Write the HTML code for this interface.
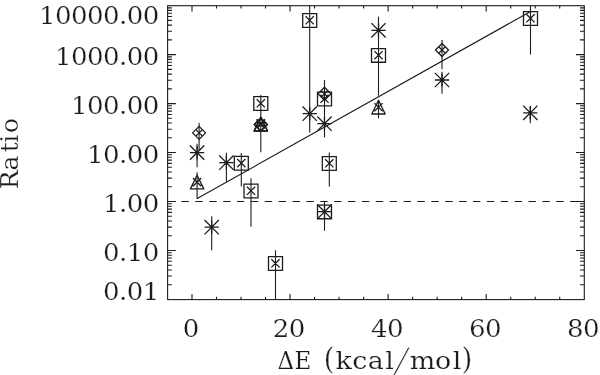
<!DOCTYPE html>
<html lang="en"><head><meta charset="utf-8"><title>Ratio vs ΔE (kcal/mol)</title>
<style>html,body{margin:0;padding:0;background:#fff;overflow:hidden}svg{display:block}text{font-family:"DejaVu Serif","Liberation Serif",serif;font-size:25px;fill:#1c1c1c;stroke:#fff;stroke-width:0.2px;paint-order:fill stroke}</style></head><body>
<svg width="600" height="375" viewBox="0 0 600 375">
<rect x="0" y="0" width="600" height="375" fill="#fff"/>
<g fill="none" stroke="#1c1c1c" stroke-width="1.1" stroke-linecap="butt">
<rect x="167.60" y="5.70" width="416.70" height="293.90"/>
<path d="M192.00 299.60v-5.70M192.00 5.70v5.70M216.51 299.60v-2.90M216.51 5.70v2.90M241.03 299.60v-2.90M241.03 5.70v2.90M265.54 299.60v-2.90M265.54 5.70v2.90M290.06 299.60v-5.70M290.06 5.70v5.70M314.57 299.60v-2.90M314.57 5.70v2.90M339.09 299.60v-2.90M339.09 5.70v2.90M363.61 299.60v-2.90M363.61 5.70v2.90M388.12 299.60v-5.70M388.12 5.70v5.70M412.63 299.60v-2.90M412.63 5.70v2.90M437.15 299.60v-2.90M437.15 5.70v2.90M461.66 299.60v-2.90M461.66 5.70v2.90M486.18 299.60v-5.70M486.18 5.70v5.70M510.69 299.60v-2.90M510.69 5.70v2.90M535.21 299.60v-2.90M535.21 5.70v2.90M559.72 299.60v-2.90M559.72 5.70v2.90"/>
<path d="M167.60 284.68h4.30M584.30 284.68h-4.30M167.60 276.06h4.30M584.30 276.06h-4.30M167.60 269.94h4.30M584.30 269.94h-4.30M167.60 265.20h4.30M584.30 265.20h-4.30M167.60 261.32h4.30M584.30 261.32h-4.30M167.60 258.04h4.30M584.30 258.04h-4.30M167.60 255.20h4.30M584.30 255.20h-4.30M167.60 252.70h4.30M584.30 252.70h-4.30M167.60 250.46h8.30M584.30 250.46h-8.30M167.60 235.72h4.30M584.30 235.72h-4.30M167.60 227.10h4.30M584.30 227.10h-4.30M167.60 220.98h4.30M584.30 220.98h-4.30M167.60 216.24h4.30M584.30 216.24h-4.30M167.60 212.36h4.30M584.30 212.36h-4.30M167.60 209.08h4.30M584.30 209.08h-4.30M167.60 206.24h4.30M584.30 206.24h-4.30M167.60 203.74h4.30M584.30 203.74h-4.30M167.60 201.50h8.30M584.30 201.50h-8.30M167.60 186.76h4.30M584.30 186.76h-4.30M167.60 178.14h4.30M584.30 178.14h-4.30M167.60 172.02h4.30M584.30 172.02h-4.30M167.60 167.28h4.30M584.30 167.28h-4.30M167.60 163.40h4.30M584.30 163.40h-4.30M167.60 160.12h4.30M584.30 160.12h-4.30M167.60 157.28h4.30M584.30 157.28h-4.30M167.60 154.78h4.30M584.30 154.78h-4.30M167.60 152.54h8.30M584.30 152.54h-8.30M167.60 137.80h4.30M584.30 137.80h-4.30M167.60 129.18h4.30M584.30 129.18h-4.30M167.60 123.06h4.30M584.30 123.06h-4.30M167.60 118.32h4.30M584.30 118.32h-4.30M167.60 114.44h4.30M584.30 114.44h-4.30M167.60 111.16h4.30M584.30 111.16h-4.30M167.60 108.32h4.30M584.30 108.32h-4.30M167.60 105.82h4.30M584.30 105.82h-4.30M167.60 103.58h8.30M584.30 103.58h-8.30M167.60 88.84h4.30M584.30 88.84h-4.30M167.60 80.22h4.30M584.30 80.22h-4.30M167.60 74.10h4.30M584.30 74.10h-4.30M167.60 69.36h4.30M584.30 69.36h-4.30M167.60 65.48h4.30M584.30 65.48h-4.30M167.60 62.20h4.30M584.30 62.20h-4.30M167.60 59.36h4.30M584.30 59.36h-4.30M167.60 56.86h4.30M584.30 56.86h-4.30M167.60 54.62h8.30M584.30 54.62h-8.30M167.60 39.88h4.30M584.30 39.88h-4.30M167.60 31.26h4.30M584.30 31.26h-4.30M167.60 25.14h4.30M584.30 25.14h-4.30M167.60 20.40h4.30M584.30 20.40h-4.30M167.60 16.52h4.30M584.30 16.52h-4.30M167.60 13.24h4.30M584.30 13.24h-4.30M167.60 10.40h4.30M584.30 10.40h-4.30M167.60 7.90h4.30M584.30 7.90h-4.30"/>
</g><g fill="none" stroke="#1c1c1c" stroke-width="1.1">
<path d="M167.60 201.50H584.30" stroke-dasharray="7.4 6.48"/>
<path d="M197.2 198.5L530.5 11.5"/>
<path d="M197.10 143.80V167.20M211.70 216.30V250.30M226.40 152.70V181.80M309.70 5.70V132.50M324.50 80.00V137.50M378.50 16.70V95.60M442.00 71.70V93.70M530.30 106.00V123.20M241.30 152.90V186.50M251.00 178.30V226.70M260.80 95.00V152.20M275.50 250.30V299.60M324.50 201.70V230.80M329.30 152.60V186.50M530.50 5.70V54.50M199.10 122.90V150.30M442.00 40.00V69.20M197.10 172.30V199.00M378.50 100.00V118.30"/>
</g><g fill="none" stroke="#1c1c1c" stroke-width="1.3">
<path d="M189.95 152.60h14.30M197.10 145.90v13.40M189.95 145.45l14.30 14.30M189.95 159.75l14.30 -14.30M204.55 227.20h14.30M211.70 220.50v13.40M204.55 220.05l14.30 14.30M204.55 234.35l14.30 -14.30M219.25 162.70h14.30M226.40 156.00v13.40M219.25 155.55l14.30 14.30M219.25 169.85l14.30 -14.30M302.55 113.70h14.30M309.70 107.00v13.40M302.55 106.55l14.30 14.30M302.55 120.85l14.30 -14.30M317.35 123.70h14.30M324.50 117.00v13.40M317.35 116.55l14.30 14.30M317.35 130.85l14.30 -14.30M371.35 30.30h14.30M378.50 23.60v13.40M371.35 23.15l14.30 14.30M371.35 37.45l14.30 -14.30M434.85 80.00h14.30M442.00 73.30v13.40M434.85 72.85l14.30 14.30M434.85 87.15l14.30 -14.30M523.15 112.80h14.30M530.30 106.10v13.40M523.15 105.65l14.30 14.30M523.15 119.95l14.30 -14.30M317.35 211.70h14.30M324.50 205.00v13.40M317.35 204.55l14.30 14.30M317.35 218.85l14.30 -14.30"/>
<path d="M234.30 156.45h14.00v13.70h-14.00zM237.20 159.00l8.20 8.20M237.20 167.20l8.20 -8.20M244.00 184.15h14.00v13.70h-14.00zM246.90 186.70l8.20 8.20M246.90 194.90l8.20 -8.20M253.80 96.65h14.00v13.70h-14.00zM256.70 99.20l8.20 8.20M256.70 107.40l8.20 -8.20M268.50 256.65h14.00v13.70h-14.00zM271.40 259.20l8.20 8.20M271.40 267.40l8.20 -8.20M302.70 13.65h14.00v13.70h-14.00zM305.60 16.20l8.20 8.20M305.60 24.40l8.20 -8.20M317.50 92.15h14.00v13.70h-14.00zM320.40 94.70l8.20 8.20M320.40 102.90l8.20 -8.20M322.30 156.65h14.00v13.70h-14.00zM325.20 159.20l8.20 8.20M325.20 167.40l8.20 -8.20M371.50 48.55h14.00v13.70h-14.00zM374.40 51.10l8.20 8.20M374.40 59.30l8.20 -8.20M523.50 11.65h14.00v13.70h-14.00zM526.40 14.20l8.20 8.20M526.40 22.40l8.20 -8.20"/>
<path d="M317.50 205.05h14.00v13.70h-14.00z"/>
<path stroke-linejoin="round" d="M199.10 126.40l6.50 6.50l-6.50 6.50l-6.50 -6.50zM196.10 129.90l6.00 6.00M196.10 135.90l6.00 -6.00M260.80 118.00l6.50 6.50l-6.50 6.50l-6.50 -6.50zM257.80 121.50l6.00 6.00M257.80 127.50l6.00 -6.00M324.50 87.30l6.50 6.50l-6.50 6.50l-6.50 -6.50zM321.50 90.80l6.00 6.00M321.50 96.80l6.00 -6.00M442.00 43.50l6.50 6.50l-6.50 6.50l-6.50 -6.50zM439.00 47.00l6.00 6.00M439.00 53.00l6.00 -6.00"/>
<path stroke-linejoin="round" d="M197.10 175.20L203.80 188.90H190.40zM193.00 178.00l8.20 8.20M193.00 186.20l8.20 -8.20M260.80 117.30L267.50 131.00H254.10zM256.70 120.10l8.20 8.20M256.70 128.30l8.20 -8.20M378.50 100.30L385.20 114.00H371.80zM374.40 103.10l8.20 8.20M374.40 111.30l8.20 -8.20"/>
<path stroke-linejoin="round" stroke-width="1.5" d="M256.60 119.20l8.40 8.40M256.60 127.60l8.40 -8.40M260.80 118.00l6.50 6.50l-6.50 6.50l-6.50 -6.50zM260.80 117.30L267.50 131.00H254.10z"/>
</g>
<text transform="translate(158.80 23.60) scale(1.043 1)" text-anchor="end" letter-spacing="-0.55">10000.00</text>
<text transform="translate(158.80 65.32) scale(1.043 1)" text-anchor="end" letter-spacing="-0.55">1000.00</text>
<text transform="translate(158.80 114.28) scale(1.043 1)" text-anchor="end" letter-spacing="-0.55">100.00</text>
<text transform="translate(158.80 163.24) scale(1.043 1)" text-anchor="end" letter-spacing="-0.55">10.00</text>
<text transform="translate(158.80 212.20) scale(1.043 1)" text-anchor="end" letter-spacing="-0.55">1.00</text>
<text transform="translate(158.80 261.16) scale(1.043 1)" text-anchor="end" letter-spacing="-0.55">0.10</text>
<text transform="translate(158.80 300.00) scale(1.043 1)" text-anchor="end" letter-spacing="-0.55">0.01</text>
<text transform="translate(190.80 336.70) scale(1.043 1)" text-anchor="middle" letter-spacing="-0.55">0</text>
<text transform="translate(288.86 336.70) scale(1.043 1)" text-anchor="middle" letter-spacing="-0.55">20</text>
<text transform="translate(386.92 336.70) scale(1.043 1)" text-anchor="middle" letter-spacing="-0.55">40</text>
<text transform="translate(484.98 336.70) scale(1.043 1)" text-anchor="middle" letter-spacing="-0.55">60</text>
<text transform="translate(583.04 336.70) scale(1.043 1)" text-anchor="middle" letter-spacing="-0.55">80</text>
<text transform="translate(277.43 368.60) scale(0.92 1)" x="0.00 18.49">ΔE </text>
<text transform="translate(323.87 369.45) scale(1.08 1.166)">(</text>
<text transform="translate(335.62 368.60) scale(1.08 1)" x="0.00 15.31 29.75 46.02">kcal</text>
<text transform="translate(393.9 371.9) skewX(-17) scale(1 1.366)" style="stroke-width:0.6px">/</text>
<text transform="translate(409.73 368.60) scale(1.08 1)" x="0.00 23.45 39.80">mol</text>
<text transform="translate(461.68 369.45) scale(1.08 1.166)">)</text>
<text transform="translate(18.4 188) rotate(-90)" x="-1.27 17.55 35.67 45.20 55.05">Ratio</text>
</svg></body></html>
